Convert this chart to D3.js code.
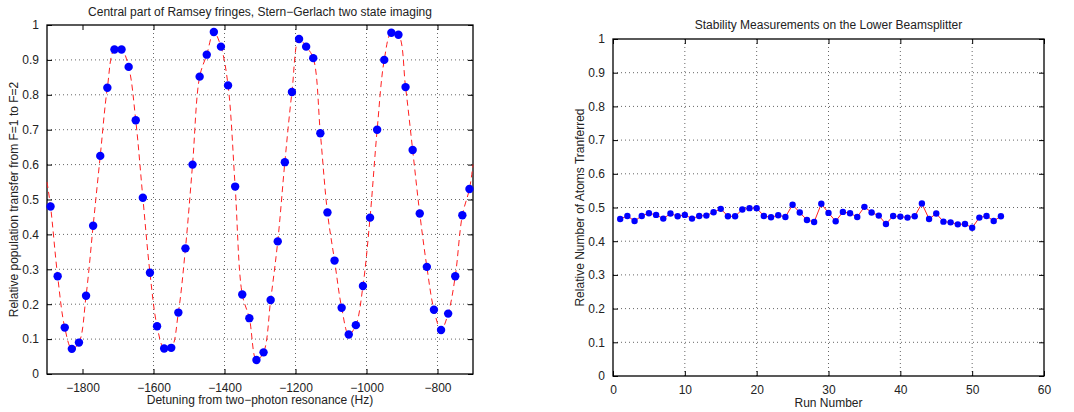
<!DOCTYPE html>
<html>
<head>
<meta charset="utf-8">
<script src="https://cdn.jsdelivr.net/npm/d3@7"></script>
<style>
  body { margin: 0; background: #fff; }
  text { font-family: "Liberation Sans", Arial, sans-serif; fill: #222; }
</style>
</head>
<body>
<script>
// Ramsey fringes: detuning (Hz) and transfer fraction
var detuning = d3.range(60).map(function(i) { return -1890 + 20 * i; });
var transfer = [0.48, 0.28, 0.133, 0.072, 0.09, 0.224, 0.425, 0.625, 0.82, 0.93,
                0.93, 0.88, 0.727, 0.505, 0.29, 0.137, 0.073, 0.075, 0.176, 0.36,
                0.60, 0.852, 0.915, 0.98, 0.938, 0.827, 0.537, 0.228, 0.16, 0.04,
                0.062, 0.212, 0.38, 0.607, 0.808, 0.96, 0.938, 0.905, 0.69, 0.463,
                0.325, 0.19, 0.113, 0.14, 0.252, 0.448, 0.70, 0.90, 0.978, 0.972,
                0.822, 0.642, 0.46, 0.307, 0.184, 0.126, 0.173, 0.28, 0.455, 0.53];
// fit curve end values at the plot edges
var fitEnds = [[-1900, 0.55], [-700, 0.60]];
var detTicks = [-1800, -1600, -1400, -1200, -1000, -800];
var fracTicks = [0, 0.1, 0.2, 0.3, 0.4, 0.5, 0.6, 0.7, 0.8, 0.9, 1];

// stability runs
var runs = d3.range(1, 55);
var atoms = [0.466, 0.475, 0.46, 0.475, 0.483, 0.478, 0.467, 0.482, 0.474, 0.478,
             0.467, 0.475, 0.476, 0.486, 0.496, 0.474, 0.474, 0.494, 0.498, 0.498,
             0.475, 0.471, 0.477, 0.472, 0.508, 0.485, 0.463, 0.457, 0.511, 0.484,
             0.459, 0.487, 0.483, 0.472, 0.502, 0.485, 0.476, 0.451, 0.475, 0.473,
             0.47, 0.474, 0.512, 0.466, 0.482, 0.458, 0.456, 0.45, 0.451, 0.44,
             0.47, 0.475, 0.46, 0.474];
var runTicks = [0, 10, 20, 30, 40, 50, 60];

var svg = d3.select("body").append("svg").attr("width", 1074).attr("height", 412);

function minus(v) { return String(v).replace("-", "\u2212"); }

function frame(box, x, y, xt, yt) {
  var g = svg.append("g").attr("transform", "translate(" + box.left + "," + box.top + ")");
  var w = box.width, h = box.height;
  // grid
  g.selectAll(".gx").data(xt.slice(1, xt.length - (x.domain()[1] === xt[xt.length-1] ? 1 : 0)))
    .enter().append("line")
    .attr("x1", function(d){ return x(d); }).attr("x2", function(d){ return x(d); })
    .attr("y1", 0).attr("y2", h)
    .attr("stroke", "#666").attr("stroke-width", 1).attr("stroke-dasharray", "1,3");
  g.selectAll(".gy").data(yt.slice(1, yt.length - 1))
    .enter().append("line")
    .attr("y1", function(d){ return y(d); }).attr("y2", function(d){ return y(d); })
    .attr("x1", 0).attr("x2", w)
    .attr("stroke", "#666").attr("stroke-width", 1).attr("stroke-dasharray", "1,3");
  // axes with inward ticks
  g.append("g").attr("transform", "translate(0," + h + ")")
    .call(d3.axisBottom(x).tickValues(xt).tickSizeInner(-5).tickSizeOuter(0).tickPadding(9).tickFormat(minus));
  g.append("g").call(d3.axisTop(x).tickValues(xt).tickSizeInner(-5).tickSizeOuter(0).tickFormat(""));
  g.append("g").call(d3.axisLeft(y).tickValues(yt).tickSizeInner(-5).tickSizeOuter(0).tickPadding(8).tickFormat(function(d){ return String(d); }));
  g.append("g").attr("transform", "translate(" + w + ",0)")
    .call(d3.axisRight(y).tickValues(yt).tickSizeInner(-5).tickSizeOuter(0).tickFormat(""));
  g.selectAll(".domain").remove();
  g.selectAll(".tick line").attr("stroke", "#000");
  g.selectAll(".tick text").style("font-size", "12px").attr("fill", "#222");
  g.append("rect").attr("width", w).attr("height", h)
    .attr("fill", "none").attr("stroke", "#000").attr("stroke-width", 1.3);
  return g;
}

// ---- left chart
var L = {left: 47, top: 25, width: 426, height: 349};
var x1 = d3.scaleLinear().domain([-1900, -700]).range([0, L.width]);
var y1 = d3.scaleLinear().domain([0, 1]).range([L.height, 0]);
var g1 = frame(L, x1, y1, detTicks, fracTicks);

var ramsey = detuning.map(function(d, i) { return [d, transfer[i]]; });
var fitPts = [fitEnds[0]].concat(ramsey, [fitEnds[1]]);
g1.append("path").datum(fitPts)
  .attr("fill", "none").attr("stroke", "#ff2020").attr("stroke-width", 1)
  .attr("stroke-dasharray", "6,4")
  .attr("d", d3.line().x(function(d){ return x1(d[0]); }).y(function(d){ return y1(d[1]); }).curve(d3.curveCatmullRom));
g1.selectAll(".dot").data(ramsey).enter().append("circle")
  .attr("cx", function(d){ return x1(d[0]); }).attr("cy", function(d){ return y1(d[1]); })
  .attr("r", 4.2).attr("fill", "#0000ff");

svg.append("text").attr("x", L.left + L.width / 2).attr("y", 16).attr("text-anchor", "middle")
  .style("font-size", "12px").text("Central part of Ramsey fringes, Stern\u2212Gerlach two state imaging");
svg.append("text").attr("x", L.left + L.width / 2).attr("y", 404).attr("text-anchor", "middle")
  .style("font-size", "12px").text("Detuning from two\u2212photon resonance (Hz)");
svg.append("text").attr("transform", "translate(18," + (L.top + L.height / 2) + ") rotate(-90)")
  .attr("text-anchor", "middle").style("font-size", "12px")
  .text("Relative population transfer from F=1 to F=2");

// ---- right chart
var R = {left: 613, top: 39, width: 431, height: 337};
var x2 = d3.scaleLinear().domain([0, 60]).range([0, R.width]);
var y2 = d3.scaleLinear().domain([0, 1]).range([R.height, 0]);
var g2 = frame(R, x2, y2, runTicks, fracTicks);

var stab = runs.map(function(d, i) { return [d, atoms[i]]; });
g2.append("path").datum(stab)
  .attr("fill", "none").attr("stroke", "#ff2020").attr("stroke-width", 1)
  .attr("d", d3.line().x(function(d){ return x2(d[0]); }).y(function(d){ return y2(d[1]); }));
g2.selectAll(".dot").data(stab).enter().append("circle")
  .attr("cx", function(d){ return x2(d[0]); }).attr("cy", function(d){ return y2(d[1]); })
  .attr("r", 3.2).attr("fill", "#0000ff");

svg.append("text").attr("x", R.left + R.width / 2).attr("y", 29).attr("text-anchor", "middle")
  .style("font-size", "12px").text("Stability Measurements on the Lower Beamsplitter");
svg.append("text").attr("x", R.left + R.width / 2).attr("y", 407).attr("text-anchor", "middle")
  .style("font-size", "12px").text("Run Number");
svg.append("text").attr("transform", "translate(584," + (R.top + R.height / 2) + ") rotate(-90)")
  .attr("text-anchor", "middle").style("font-size", "12px")
  .text("Relative Number of Atoms Tranferred");
</script>
</body>
</html>
